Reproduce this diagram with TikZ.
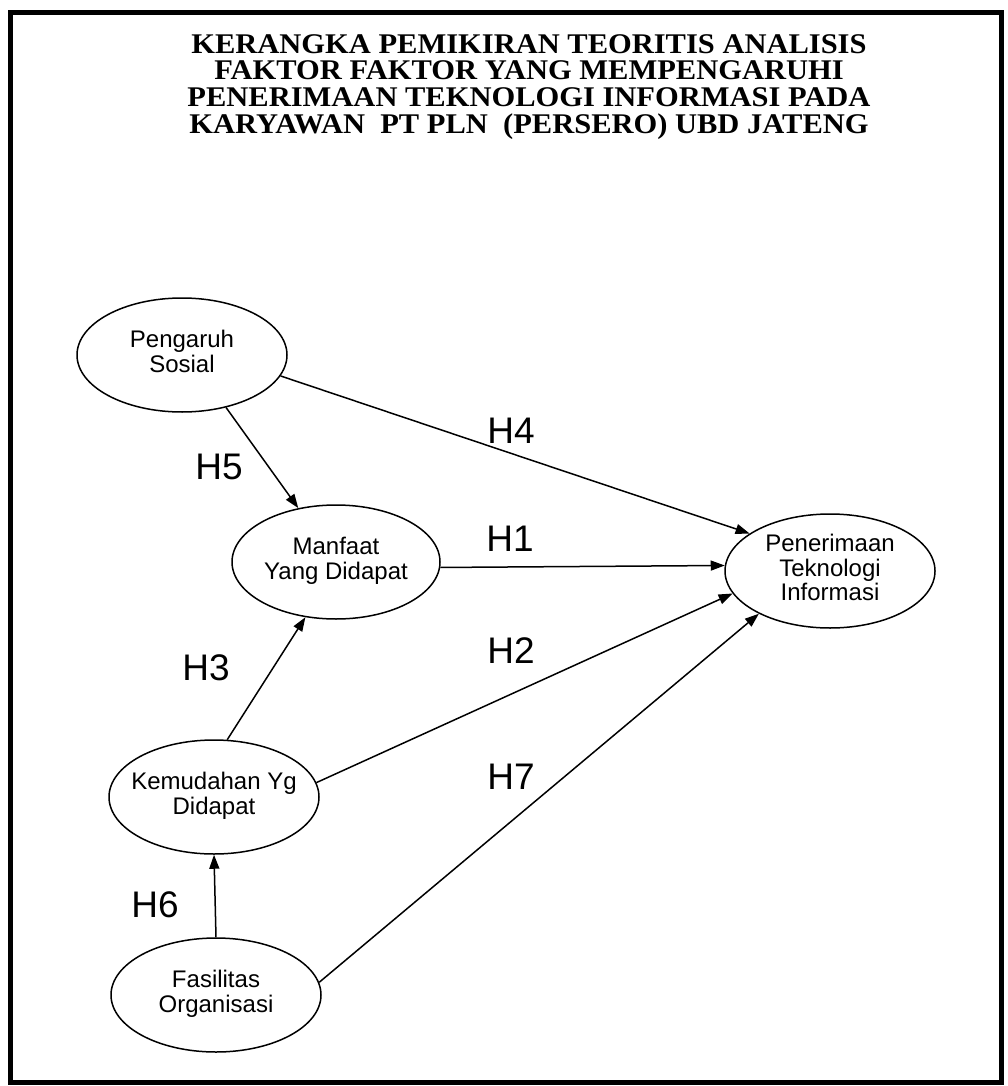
\documentclass[tikz,border=0pt]{standalone}
\usepackage{fontspec}
\setmainfont{Liberation Serif}
\newfontfamily\titlef[FakeStretch=1.07]{Liberation Serif}
\newfontfamily\arialf{Liberation Sans}
\usetikzlibrary{shapes.geometric,arrows.meta}
\newcommand\elltext[1]{\makebox[0pt]{\begin{tabular}{@{}c@{}}#1\end{tabular}}}
\begin{document}
\begin{tikzpicture}[x=1pt,y=-1pt,
  var/.style={ellipse,draw,line width=1.5pt,minimum width=210pt,minimum height=114pt,inner sep=0pt,
    font=\arialf\fontsize{24}{23.5}\selectfont},
  hyp/.style={inner sep=0pt,font=\arialf\fontsize{37}{37}\selectfont},
  link/.style={line width=1.5pt,-{Triangle[length=14pt,width=10pt]}},
  titlebox/.style={inner sep=0pt,align=center,anchor=north,font=\titlef\bfseries\fontsize{28.5}{26.7}\selectfont}]
\useasboundingbox (0,0) rectangle (1008,1086);
\fill[white] (0,0) rectangle (1008,1086);
\draw[line width=5pt] (10,13) rectangle (1001,1082);

\node[titlebox] (title) at (529,34) {KERANGKA PEMIKIRAN TEORITIS ANALISIS\\FAKTOR FAKTOR YANG MEMPENGARUHI\\PENERIMAAN TEKNOLOGI INFORMASI PADA\\KARYAWAN\ \ PT PLN\ \ (PERSERO) UBD JATENG};

\node[var] (ps) at (182,355) {\elltext{Pengaruh\\Sosial}};
\node[var,minimum width=208pt] (md) at (336,562) {\elltext{Manfaat\\Yang Didapat}};
\node[var] (pti) at (830,571) {\elltext{Penerimaan\\Teknologi\\Informasi}};
\node[var] (kd) at (214,797) {\elltext{Kemudahan Yg\\Didapat}};
\node[var] (fo) at (216,995) {\elltext{Fasilitas\\Organisasi}};

\node[hyp] (h4) at (511,431) {H4};
\node[hyp] (h5) at (219,467) {H5};
\node[hyp] (h1) at (510,539) {H1};
\node[hyp] (h2) at (511,651) {H2};
\node[hyp] (h3) at (206,668) {H3};
\node[hyp] (h7) at (511,777) {H7};
\node[hyp] (h6) at (155,905) {H6};

\draw[link] (ps.348) -- (pti.155);
\draw[link] (ps.310) -- (md.125);
\draw[link] (md.357) -- (pti.177);
\draw[link] (kd.77) -- (md.241);
\draw[link] (kd.8) -- (pti.193);
\draw[link] (fo.north) -- (kd.south);
\draw[link] (fo.7) -- (pti.211);
\end{tikzpicture}
\end{document}
